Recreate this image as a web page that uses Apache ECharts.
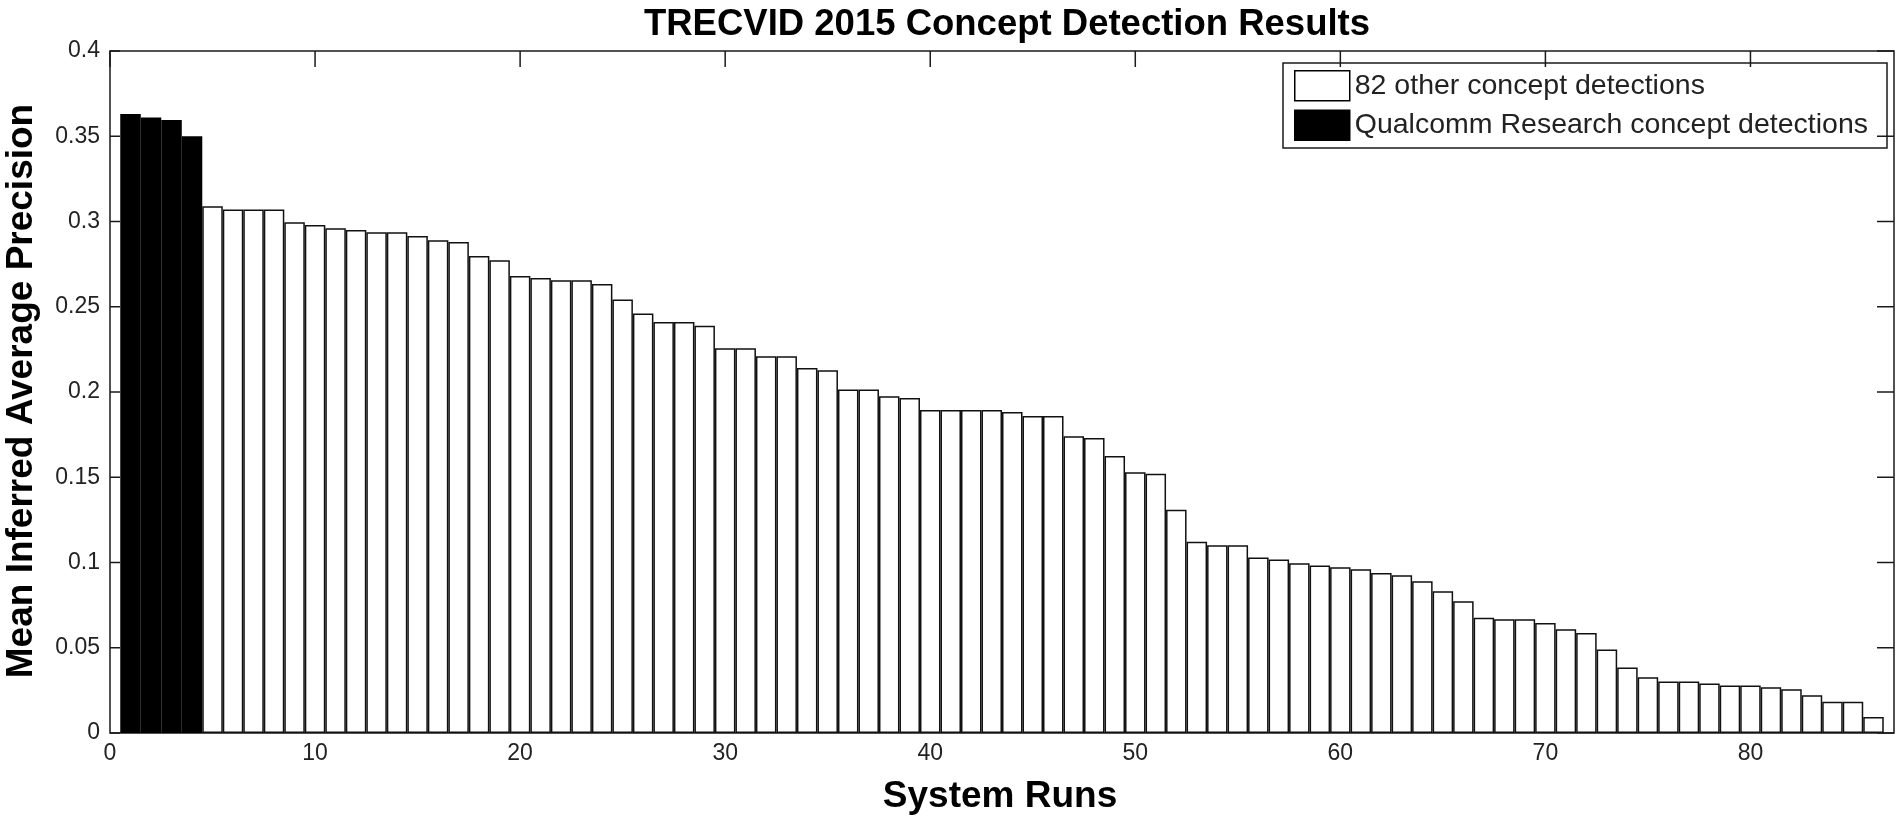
<!DOCTYPE html>
<html>
<head>
<meta charset="utf-8">
<script src="https://cdn.jsdelivr.net/npm/echarts@6/dist/echarts.min.js"></script>
<style>
  html, body { margin: 0; padding: 0; background: #fff; }
  #chart { width: 1900px; height: 821px; }
</style>
</head>
<body>
<div id="chart"></div>
<script>
// ---- Data ----
const titleText = 'TRECVID 2015 Concept Detection Results';
const xAxisName = 'System Runs';
const yAxisName = 'Mean Inferred Average Precision';
const seriesNames = ['82 other concept detections', 'Qualcomm Research concept detections'];

const qualcommRuns = [1, 2, 3, 4];
const qualcommMAP = [0.363, 0.361, 0.3595, 0.350];

const otherFirstRun = 5;
const otherMAP = [
  0.309, 0.307, 0.307, 0.307, 0.2995, 0.298, 0.296, 0.295, 0.2937, 0.2937,
  0.2915, 0.289, 0.288, 0.2797, 0.2773, 0.268, 0.2668, 0.2655, 0.2655, 0.2634,
  0.2542, 0.246, 0.241, 0.241, 0.2389, 0.2257, 0.2257, 0.221, 0.221, 0.2141,
  0.2128, 0.2015, 0.2015, 0.1975, 0.1965, 0.1894, 0.1894, 0.1894, 0.1894, 0.1883,
  0.1859, 0.1859, 0.174, 0.173, 0.1625, 0.153, 0.152, 0.1309, 0.1122, 0.1101,
  0.1101, 0.103, 0.1017, 0.0996, 0.0983, 0.0972, 0.096, 0.0938, 0.0925, 0.089,
  0.0831, 0.0773, 0.0676, 0.0667, 0.0667, 0.0645, 0.0608, 0.0586, 0.049, 0.0384,
  0.0327, 0.0302, 0.0302, 0.029, 0.0278, 0.0278, 0.0269, 0.0257, 0.0222, 0.0184,
  0.0184, 0.0094
];

const xTicks = [0, 10, 20, 30, 40, 50, 60, 70, 80];
const yTicks = [0, 0.05, 0.1, 0.15, 0.2, 0.25, 0.3, 0.35, 0.4];

const xMin = 0, xMax = 87, xInterval = 10;
const yMin = 0, yMax = 0.4, yInterval = 0.05;

// ---- Build ----
const grid = { left: 110, right: 6, top: 51, bottom: 88 };
const W = 1900, H = 821;
const barPx = (W - grid.left - grid.right) / (xMax - xMin);

const qualcommData = qualcommRuns.map((r, i) => [r, qualcommMAP[i]]);
const otherData = otherMAP.map((v, i) => [otherFirstRun + i, v]);

const lineColor = '#1a1a1a';
const tickFont = { fontFamily: 'Liberation Sans', fontSize: 23, color: '#222' };
const xFmt = v => (v % xInterval === 0 ? String(v) : '');
const xTickLen = 16, yTickLenL = 10, yTickLenR = 17;
const tickStyle = { stroke: lineColor, lineWidth: 1.5 };

const chart = echarts.init(document.getElementById('chart'), null, { renderer: 'canvas' });

chart.setOption({
  animation: false,
  backgroundColor: '#fff',
  title: {
    text: titleText,
    left: 1002,
    textAlign: 'center',
    top: 1,
    textStyle: { fontFamily: 'Liberation Sans', fontWeight: 'bold', fontSize: 36.5, color: '#000' }
  },
  legend: {
    orient: 'vertical',
    right: 13,
    top: 63,
    padding: [7, 19, 7, 11],
    itemWidth: 55,
    itemHeight: 30,
    itemGap: 8,
    backgroundColor: '#fff',
    borderColor: lineColor,
    borderWidth: 1.5,
    borderRadius: 0,
    textStyle: { fontFamily: 'Liberation Sans', fontSize: 28.5, color: '#222' },
    data: [
      { name: seriesNames[0], icon: 'rect', itemStyle: { color: '#fff', borderColor: '#000', borderWidth: 1.5 } },
      { name: seriesNames[1], icon: 'rect', itemStyle: { color: '#000', borderColor: '#000', borderWidth: 1.5 } }
    ]
  },
  grid: {
    left: grid.left, right: grid.right, top: grid.top, bottom: grid.bottom, containLabel: false,
    show: true, borderColor: lineColor, borderWidth: 1.5, backgroundColor: 'transparent'
  },
  xAxis: {
    type: 'value', position: 'bottom', min: xMin, max: xMax, interval: xInterval,
    axisLine: { show: false },
    axisTick: { show: false },
    axisLabel: Object.assign({ margin: 9, formatter: xFmt }, tickFont),
    splitLine: { show: false }
  },
  yAxis: {
    type: 'value', position: 'left', min: yMin, max: yMax, interval: yInterval,
    axisLine: { show: false },
    axisTick: { show: false },
    axisLabel: Object.assign({ margin: 10 }, tickFont),
    splitLine: { show: false }
  },
  graphic: [
    {
      type: 'text', x: 1000, y: 797,
      style: { text: xAxisName, fontFamily: 'Liberation Sans', fontWeight: 'bold', fontSize: 37, fill: '#000', align: 'center', verticalAlign: 'middle' }
    },
    {
      type: 'text', x: 22, y: 391, rotation: Math.PI / 2,
      style: { text: yAxisName, fontFamily: 'Liberation Sans', fontWeight: 'bold', fontSize: 37, fill: '#000', align: 'center', verticalAlign: 'middle' }
    }
  ],
  series: [
    {
      name: seriesNames[0], type: 'bar',
      barWidth: barPx, barGap: '-100%',
      itemStyle: { color: '#fff', borderColor: '#111', borderWidth: 1.5 },
      data: otherData
    },
    {
      name: seriesNames[1], type: 'bar',
      barWidth: barPx, barGap: '-100%',
      itemStyle: { color: '#000', borderColor: '#000', borderWidth: 1.5 },
      data: qualcommData
    },
    {
      // inward y ticks on the left and right frame edges
      type: 'custom', name: 'yTicks', silent: true, z: 5, clip: false,
      data: yTicks.map(v => [xMin, v]),
      renderItem: (params, api) => {
        const v = api.value(1);
        const pl = api.coord([xMin, v]);
        const pr = api.coord([xMax, v]);
        return {
          type: 'group',
          children: [
            { type: 'line', shape: { x1: pl[0], y1: pl[1], x2: pl[0] + yTickLenL, y2: pl[1] }, style: tickStyle },
            { type: 'line', shape: { x1: pr[0], y1: pr[1], x2: pr[0] - yTickLenR, y2: pr[1] }, style: tickStyle }
          ]
        };
      }
    },
    {
      // inward x ticks on the top frame edge
      type: 'custom', name: 'xTicks', silent: true, z: 5, clip: false,
      data: xTicks.map(v => [v, yMax]),
      renderItem: (params, api) => {
        const p = api.coord([api.value(0), yMax]);
        return { type: 'line', shape: { x1: p[0], y1: p[1], x2: p[0], y2: p[1] + xTickLen }, style: tickStyle };
      }
    }
  ]
});
</script>
</body>
</html>
